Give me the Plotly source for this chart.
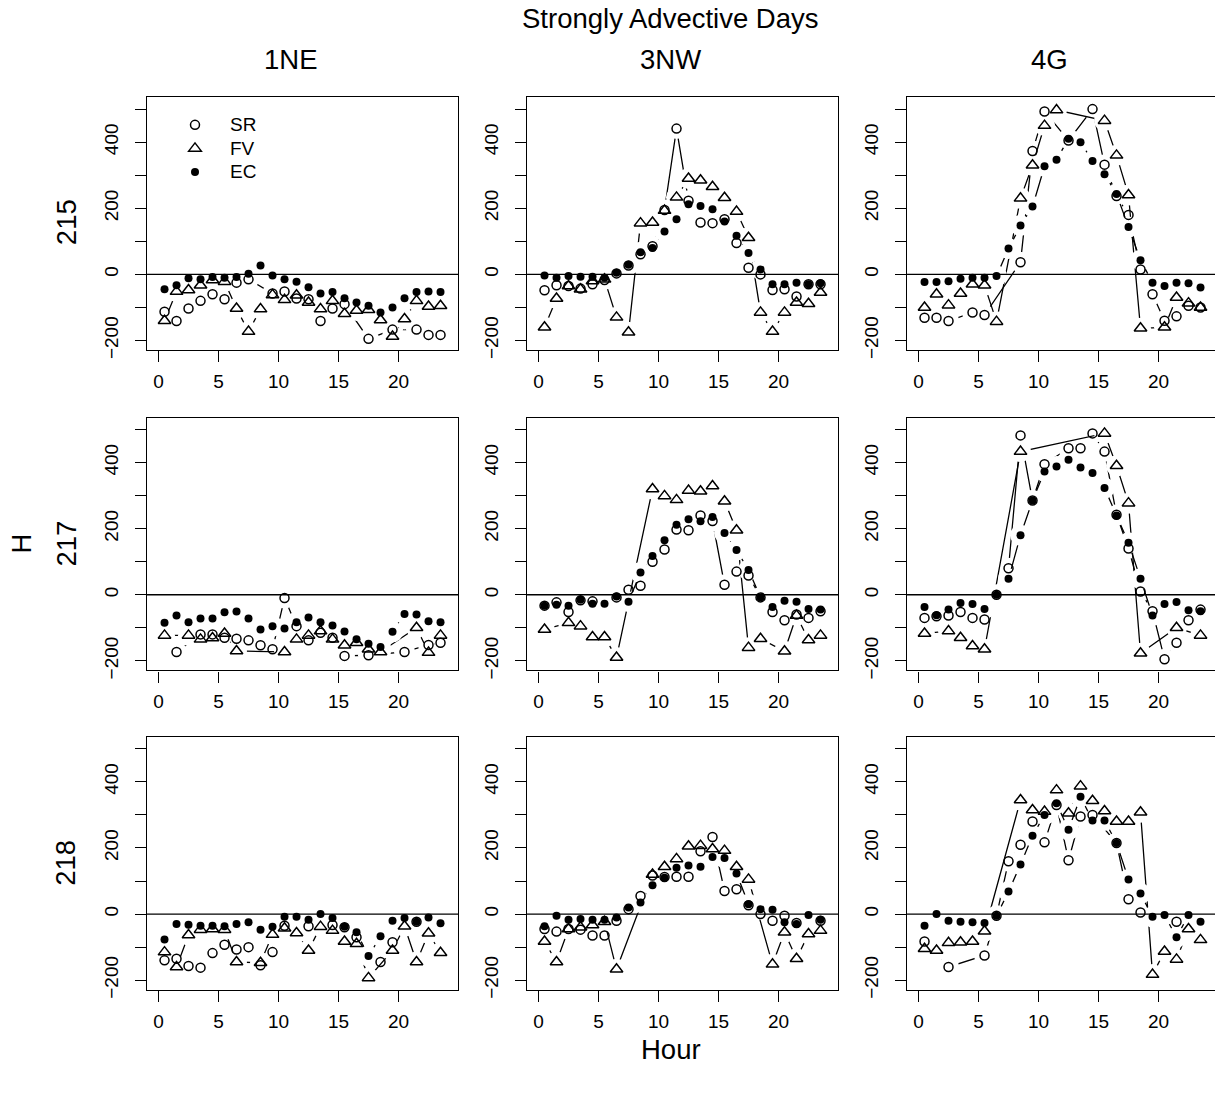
import plotly.graph_objects as go

# ---------------- data ----------------
hours = [0.5, 1.5, 2.5, 3.5, 4.5, 5.5, 6.5, 7.5, 8.5, 9.5, 10.5, 11.5,
         12.5, 13.5, 14.5, 15.5, 16.5, 17.5, 18.5, 19.5, 20.5, 21.5, 22.5, 23.5]
stations = ["1NE", "3NW", "4G"]
days = ["215", "217", "218"]
series_names = ["SR", "FV", "EC"]
x_ticks = [0, 5, 10, 15, 20]
y_ticks = [-200, -100, 0, 100, 200, 300, 400, 500]
y_tick_text = ["\u2212200", "", "0", "", "200", "", "400", ""]

# 1NE, day 215
SR_1NE_215 = [-113, -141, -103, -80, -60, -75, -25, -15, None, -58, -52, -73, -75, -141, -103, -90, None, -195, None, -167, None, -167, -183, -183]
FV_1NE_215 = [-140, -52, -47, -33, -17, -22, -103, -173, -105, -62, -77, -63, -85, -105, -80, -119, -109, -107, -138, -188, -135, -80, -97, -95]
EC_1NE_215 = [-45, -33, -12, -15, -8, -10, -8, 2, 27, -3, -15, -22, -39, -58, -53, -72, -85, -95, -115, -100, -72, -53, -52, -53]
# 3NW, day 215
SR_3NW_215 = [-48, -33, -35, -43, -30, -17, 3, 27, 61, 85, 195, 441, 223, 157, 155, 167, 95, 20, 0, -47, -45, -67, -30, -30]
FV_3NW_215 = [-160, -73, -35, -45, -20, -15, -130, -175, 155, 157, 193, 233, 290, 285, 265, 232, 190, 111, -115, -173, -115, -85, -89, -55]
EC_3NW_215 = [-3, -10, -5, -7, -7, -10, 5, 29, 67, 80, 130, 167, 212, 207, 197, 160, 117, 65, 15, -30, -30, -25, -30, -27]
# 4G, day 215
SR_4G_215 = [-131, -131, -141, None, -115, -123, None, None, 37, 373, 493, None, 405, None, 500, 332, 237, 180, 15, -60, -140, -127, -95, -100]
FV_4G_215 = [-100, -60, -93, -58, -30, -33, -143, None, 230, 330, 450, 497, None, None, None, 465, 360, 240, -163, None, -160, -70, -87, -100]
EC_4G_215 = [-23, -23, -21, -13, -10, -10, -5, 78, 148, 205, 327, 347, 410, 400, 343, 303, 243, 143, 43, -25, -35, -25, -27, -40]
# 1NE, day 217
SR_1NE_217 = [None, -173, None, -120, -120, -130, -133, -138, -153, -165, -10, -95, -138, -115, -130, -185, None, -183, None, None, -173, None, -152, -145]
FV_1NE_217 = [-123, None, -123, -135, -131, -117, -170, None, None, None, -173, -135, -123, -110, -135, -153, -145, -165, -173, None, None, -100, -175, -123]
EC_1NE_217 = [-85, -63, -83, -72, -72, -53, -51, -72, -105, -95, -102, -83, -69, -83, -93, -111, -135, -148, -158, -112, -58, -60, -80, -83]
# 3NW, day 217
SR_3NW_217 = [-33, -23, -52, -17, -20, None, -8, 15, 27, 100, 137, 197, 195, 240, 223, 30, 70, 58, -8, -52, -77, -60, -70, -50]
FV_3NW_217 = [-105, None, -85, -95, -128, -128, -190, None, None, 320, 299, 287, 315, 313, 329, 283, 195, -160, -133, None, -171, -63, -137, -123]
EC_3NW_217 = [-33, -30, -33, -15, -27, -27, -5, -21, 67, 117, 165, 212, 228, 222, 235, 187, 135, 75, -8, -37, -18, -21, -43, -45]
# 4G, day 217
SR_4G_217 = [-70, -65, -63, -52, -70, -75, 0, 80, 482, 285, 395, None, 443, 443, 488, 433, 242, 140, 10, -50, -195, -145, -77, -45]
FV_4G_217 = [-117, None, -110, -130, -155, -165, None, None, 433, None, None, None, None, None, None, 488, 390, 277, -177, None, None, -100, None, -123]
EC_4G_217 = [-37, -62, -45, -25, -28, -43, 0, 48, 180, 285, 373, 388, 408, 385, 368, 323, 240, 157, 48, -63, -28, -22, -47, -50]
# 1NE, day 218
SR_1NE_218 = [-140, -135, -157, -162, -118, -93, -107, -100, -155, -115, -35, None, -37, None, -33, -40, -70, None, -145, -85, None, -23, None, None]
FV_1NE_218 = [-115, -160, -63, -47, -45, -47, -145, None, -147, -62, -43, -57, -110, -38, -50, -83, -90, -193, None, -110, -37, -145, -58, -117]
EC_1NE_218 = [-77, -30, -32, -35, -35, -37, -30, -25, -47, -38, -8, -8, -17, 0, -12, -38, -55, -127, -67, -20, -12, -23, -10, -28]
# 3NW, day 218
SR_3NW_218 = [-45, -53, -45, -47, -65, -65, -20, 15, 55, 117, 112, 113, 113, 190, 233, 70, 75, 27, 0, -20, -5, -27, None, -20]
FV_3NW_218 = [-83, -145, -45, -40, -33, -23, -167, None, None, 120, 143, 167, 205, 207, 197, 192, 143, 105, None, -152, -55, -135, -60, -50]
EC_3NW_218 = [-37, -5, -17, -15, -17, -17, -10, 20, 35, 87, 110, 140, 147, 143, 173, 170, 123, 30, 15, 13, -25, -30, -3, -17]
# 4G, day 218
SR_4G_218 = [-83, None, -160, None, None, -125, -5, 160, 210, 280, 217, 330, 163, 295, 300, None, 215, 45, 5, None, None, -23, None, None]
FV_4G_218 = [-105, -110, -87, -85, -83, -52, None, None, 345, 315, 310, 375, 305, 387, 343, 312, 280, 280, 308, -183, -113, -137, -45, -78]
EC_4G_218 = [-35, 0, -20, -23, -25, -27, -5, 68, 150, 237, 300, 335, 255, 355, 283, 283, 215, 105, 62, -8, -3, -70, -3, -23]

data = {
    ("1NE", "215"): {"SR": SR_1NE_215, "FV": FV_1NE_215, "EC": EC_1NE_215},
    ("3NW", "215"): {"SR": SR_3NW_215, "FV": FV_3NW_215, "EC": EC_3NW_215},
    ("4G", "215"): {"SR": SR_4G_215, "FV": FV_4G_215, "EC": EC_4G_215},
    ("1NE", "217"): {"SR": SR_1NE_217, "FV": FV_1NE_217, "EC": EC_1NE_217},
    ("3NW", "217"): {"SR": SR_3NW_217, "FV": FV_3NW_217, "EC": EC_3NW_217},
    ("4G", "217"): {"SR": SR_4G_217, "FV": FV_4G_217, "EC": EC_4G_217},
    ("1NE", "218"): {"SR": SR_1NE_218, "FV": FV_1NE_218, "EC": EC_1NE_218},
    ("3NW", "218"): {"SR": SR_3NW_218, "FV": FV_3NW_218, "EC": EC_3NW_218},
    ("4G", "218"): {"SR": SR_4G_218, "FV": FV_4G_218, "EC": EC_4G_218},
}

# ---------------- styling / layout ----------------
W, H = 1215, 1095
FONT = "Liberation Sans, Arial, Helvetica, sans-serif"
col_px = [(147, 458), (527, 838), (907, 1215)]
row_px = [(98, 353), (421, 676), (743, 998)]
PX_PER_HOUR = 12.0
X_MIN = -0.96
Y_RANGE = [-229, 536]
BIG = 27.5

marker_style = {
    "SR": dict(symbol="circle-open", size=9, color="black", line=dict(width=1.5, color="black")),
    "FV": dict(symbol="triangle-up-open", size=11, color="black", line=dict(width=1.5, color="black")),
    "EC": dict(symbol="circle", size=8, color="black", line=dict(width=0)),
}

fig = go.Figure()
layout_axes = {}
shapes = []

for r, day in enumerate(days):
    for c, st in enumerate(stations):
        idx = r * 3 + c + 1
        sfx = "" if idx == 1 else str(idx)
        xa, ya = "x" + sfx, "y" + sfx
        panel = data[(st, day)]
        # connecting lines, with white discs around the points ("type b" gaps)
        for name in series_names:
            vals = panel[name]
            fig.add_trace(go.Scatter(x=hours, y=vals, mode="lines", connectgaps=True,
                                     line=dict(color="black", width=1.3),
                                     xaxis=xa, yaxis=ya, showlegend=False, hoverinfo="skip"))
            fig.add_trace(go.Scatter(x=hours, y=vals, mode="markers",
                                     marker=dict(symbol="circle", size=21, color="white", line=dict(width=0)),
                                     xaxis=xa, yaxis=ya, showlegend=False, hoverinfo="skip"))
        for name in series_names:
            vals = panel[name]
            fig.add_trace(go.Scatter(x=hours, y=vals, mode="markers",
                                     name='<span style="font-size:19px">%s</span>' % name,
                                     marker=marker_style[name],
                                     xaxis=xa, yaxis=ya, showlegend=(idx == 1)))

        x0p, x1p = col_px[c]
        y0p, y1p = row_px[r]
        xr = [X_MIN, X_MIN + (x1p - x0p) / PX_PER_HOUR]
        layout_axes["xaxis" + sfx] = dict(
            domain=[x0p / W, x1p / W], range=xr, anchor=ya,
            showline=True, mirror=True, linecolor="black", linewidth=1.3,
            ticks="outside", ticklen=11, tickwidth=1.3, tickcolor="black",
            tickvals=x_ticks, ticktext=[str(v) for v in x_ticks],
            showgrid=False, zeroline=False, ticklabelstandoff=3,
            tickfont=dict(family=FONT, size=19, color="black"))
        layout_axes["yaxis" + sfx] = dict(
            domain=[1 - y1p / H, 1 - y0p / H], range=Y_RANGE, anchor=xa,
            showline=True, mirror=(c != 2), linecolor="black", linewidth=1.3,
            ticks="outside", ticklen=11, tickwidth=1.3, tickcolor="black",
            tickvals=y_ticks, ticktext=y_tick_text, tickangle=-90,
            showgrid=False, zeroline=False, ticklabelstandoff=9,
            tickfont=dict(family=FONT, size=19, color="black"))
        shapes.append(dict(type="line", xref=xa + " domain", x0=0, x1=1, yref=ya, y0=0, y1=0,
                           line=dict(color="black", width=1.3), layer="above"))

annotations = []
def txt(text, xp, yp, size=BIG, angle=0):
    annotations.append(dict(text=text, x=xp / W, y=1 - yp / H, xref="paper", yref="paper",
                            xanchor="center", yanchor="middle", showarrow=False, textangle=angle,
                            font=dict(family=FONT, size=size, color="black")))

txt("Strongly Advective Days", 670, 19)
for st, xp in zip(stations, [290.5, 670, 1049.5]):
    txt(st, xp, 60)
for day, yp in zip(days, [224, 548, 870]):
    txt(day, 66, yp, angle=-90)
txt("H", 21, 548, angle=-90)
txt("Hour", 671, 1058)

fig.update_layout(
    width=W, height=H, margin=dict(l=0, r=0, t=0, b=0),
    paper_bgcolor="white", plot_bgcolor="white",
    font=dict(family=FONT, color="black"),
    shapes=shapes, annotations=annotations,
    legend=dict(x=160 / W, y=1 - 109 / H, xanchor="left", yanchor="top",
                bgcolor="rgba(0,0,0,0)", itemwidth=60, traceorder="normal",
                font=dict(family=FONT, size=15.8, color="black")),
    **layout_axes,
)

fig.write_html("out.html")
